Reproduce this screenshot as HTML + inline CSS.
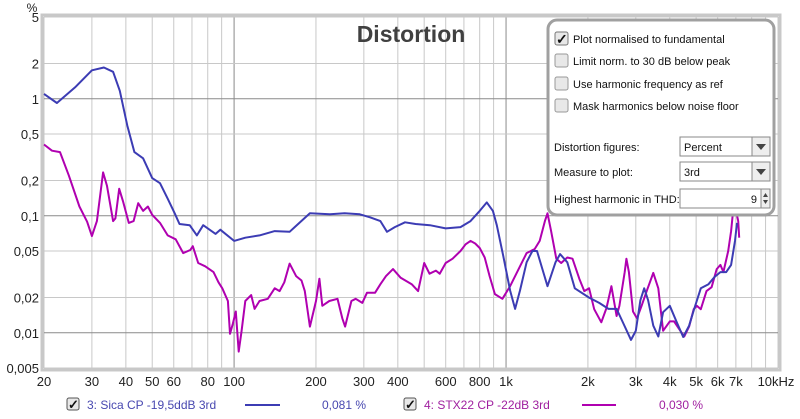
<!DOCTYPE html>
<html><head><meta charset="utf-8"><style>
body{margin:0;background:#fff;}
svg{display:block;font-family:"Liberation Sans",sans-serif;}
</style></head><body>
<svg id="chart" width="800" height="419" viewBox="0 0 800 419">
<rect x="0" y="0" width="800" height="419" fill="#fff"/>
<rect x="42" y="15" width="738" height="355" fill="#fff" stroke="#c8c8c8" stroke-width="3"/>
<g id="grid"></g>
<g id="ylabels" font-size="13" fill="#222" text-anchor="end"></g>
<g id="xlabels" font-size="13" fill="#222" text-anchor="middle"></g>
<text x="32" y="12" font-size="12" fill="#222" text-anchor="middle">%</text>
<text x="411" y="42" font-size="23" font-weight="bold" fill="#404040" text-anchor="middle">Distortion</text>
<g id="series"></g>

<g>
<rect x="548" y="20" width="226" height="195" rx="9" fill="#fff" stroke="#a0a0a0" stroke-width="3"/>
<g font-size="11" fill="#111">
<g><rect x="555" y="32" width="13" height="13" rx="2" fill="#e8e8e8" stroke="#777"/><text x="556" y="44" font-size="14" font-weight="bold">✓</text><text x="573" y="43">Plot normalised to fundamental</text></g>
<g><rect x="555" y="54" width="13" height="13" rx="2" fill="#e8e8e8" stroke="#999"/><text x="573" y="65">Limit norm. to 30 dB below peak</text></g>
<g><rect x="555" y="77" width="13" height="13" rx="2" fill="#e8e8e8" stroke="#999"/><text x="573" y="88">Use harmonic frequency as ref</text></g>
<g><rect x="555" y="99" width="13" height="13" rx="2" fill="#e8e8e8" stroke="#999"/><text x="573" y="110">Mask harmonics below noise floor</text></g>
<text x="554" y="151">Distortion figures:</text>
<g><rect x="680" y="137" width="90" height="19" fill="#fff" stroke="#888"/><text x="684" y="151">Percent</text><rect x="752" y="137" width="18" height="19" fill="#eee" stroke="#888"/><path d="M756 144h10l-5 6z" fill="#444"/></g>
<text x="554" y="176">Measure to plot:</text>
<g><rect x="680" y="162" width="90" height="19" fill="#fff" stroke="#888"/><text x="684" y="176">3rd</text><rect x="752" y="162" width="18" height="19" fill="#eee" stroke="#888"/><path d="M756 169h10l-5 6z" fill="#444"/></g>
<text x="554" y="203">Highest harmonic in THD:</text>
<g><rect x="680" y="189" width="90" height="19" fill="#fff" stroke="#888"/><text x="757" y="203" text-anchor="end">9</text><rect x="761" y="189" width="9" height="19" fill="#eee" stroke="#888"/><path d="M763 197h5l-2.5-4z M763 200h5l-2.5 4z" fill="#444"/></g>
</g>
</g>

<g font-size="12">
<g>
<rect x="67" y="398" width="12" height="12" rx="2" fill="#e8e8e8" stroke="#555"/><text x="68" y="409" font-size="13" font-weight="bold" fill="#111">✓</text>
<text x="87" y="409" fill="#4848b0">3: Sica CP -19,5ddB 3rd</text>
<line x1="245" y1="405" x2="280" y2="405" stroke="#3c3cb4" stroke-width="2"/>
<text x="322" y="409" fill="#4848b0">0,081 %</text></g>
<g>
<rect x="404" y="398" width="12" height="12" rx="2" fill="#e8e8e8" stroke="#555"/><text x="405" y="409" font-size="13" font-weight="bold" fill="#111">✓</text>
<text x="424" y="409" fill="#a020a0">4: STX22 CP -22dB 3rd</text>
<line x1="582" y1="405" x2="616" y2="405" stroke="#b000b0" stroke-width="2"/>
<text x="659" y="409" fill="#a020a0">0,030 %</text></g>
</g>
</svg>
<script>
const blueF=[20,22.3,26,30,33.2,35.9,38,40.5,43,46.3,50,53.4,57,60.5,63,68.7,73,77,85.5,89,100,110,124,141,160,167,190,225,255,290,316,345,365,390,425,465,525,600,680,740,800,850,895,925,975,1035,1080,1125,1190,1250,1300,1360,1420,1520,1580,1680,1790,2020,2200,2380,2550,2700,2880,3000,3120,3220,3330,3480,3630,3780,4000,4230,4480,4710,4900,5200,5550,5840,6140,6450,6720,6950,7070];
const blueV=[1.1,0.92,1.25,1.75,1.85,1.7,1.17,0.59,0.35,0.31,0.21,0.19,0.14,0.105,0.085,0.083,0.068,0.083,0.07,0.076,0.061,0.065,0.068,0.074,0.073,0.08,0.105,0.103,0.105,0.103,0.097,0.09,0.073,0.08,0.088,0.085,0.083,0.078,0.08,0.09,0.11,0.13,0.11,0.083,0.046,0.023,0.016,0.023,0.04,0.05,0.05,0.035,0.025,0.04,0.047,0.04,0.024,0.02,0.018,0.016,0.016,0.012,0.0087,0.0104,0.019,0.024,0.019,0.0115,0.0093,0.015,0.017,0.0125,0.0092,0.0115,0.0155,0.024,0.026,0.030,0.033,0.033,0.038,0.061,0.087];
const magF=[20,21.4,22.9,24.7,27,28.8,30,31.3,33,34.1,35.9,36.6,37.8,39,41,42.7,44.4,46.3,48.2,50,53.4,57,61,65,69,70.5,73.8,78.3,84,87.6,90.5,94.9,96.6,99,101.5,104,106.6,110,115.6,119,124,133,141,147,153,160,169,177,182,190,200,206,211,224,240,250,256,270,280,296,308,330,345,362,384,410,450,475,500,523,552,570,600,636,680,710,740,770,800,835,870,910,970,1035,1125,1190,1275,1330,1390,1420,1465,1530,1595,1680,1755,1860,1940,2020,2110,2240,2340,2440,2550,2610,2730,2770,2830,2930,3030,3150,3290,3480,3630,3780,4000,4150,4330,4520,4710,4900,5030,5200,5460,5700,5950,6140,6300,6560,6720,6840,6960,7140,7200];
const magV=[0.407,0.36,0.35,0.22,0.12,0.089,0.067,0.09,0.235,0.18,0.09,0.095,0.17,0.134,0.087,0.09,0.128,0.11,0.12,0.102,0.087,0.068,0.063,0.048,0.051,0.055,0.0395,0.037,0.033,0.027,0.024,0.0187,0.0098,0.012,0.0152,0.0069,0.0104,0.0187,0.021,0.016,0.0187,0.0195,0.024,0.0227,0.027,0.039,0.0305,0.028,0.0227,0.0113,0.0187,0.029,0.017,0.0187,0.0195,0.0133,0.0113,0.0187,0.0195,0.018,0.022,0.022,0.026,0.0305,0.035,0.0295,0.026,0.0227,0.0395,0.032,0.034,0.032,0.0395,0.043,0.05,0.057,0.061,0.058,0.053,0.044,0.0305,0.0214,0.0195,0.025,0.037,0.048,0.052,0.061,0.09,0.105,0.074,0.043,0.0395,0.044,0.043,0.029,0.0227,0.024,0.0159,0.0123,0.0163,0.025,0.0139,0.017,0.033,0.043,0.033,0.0152,0.0133,0.017,0.0227,0.0325,0.024,0.0104,0.0125,0.0125,0.0108,0.0093,0.0113,0.0159,0.017,0.0159,0.0227,0.0245,0.035,0.038,0.033,0.05,0.074,0.11,0.12,0.09,0.065];
const yTicks=[5,2,1,0.5,0.2,0.1,0.05,0.02,0.01,0.005];
const yTickLabels=["5","2","1","0,5","0,2","0,1","0,05","0,02","0,01","0,005"];
const xGrid=[20,30,40,50,60,70,80,90,100,200,300,400,500,600,700,800,900,1000,2000,3000,4000,5000,6000,7000,8000,9000,10000];
const xTicks=[20,30,40,50,60,80,100,200,300,400,600,800,1000,2000,3000,4000,5000,6000,7000,10000];
const xTickLabels=["20","30","40","50","60","80","100","200","300","400","600","800","1k","2k","3k","4k","5k","6k","7k","10kHz"];

const X0=44,X1=778,Y0=17,Y1=368;
const xs=f=>X0+(Math.log10(f)-Math.log10(20))/(Math.log10(10000)-Math.log10(20))*(X1-X0);
const ys=v=>Y0+(Math.log10(5)-Math.log10(v))/(Math.log10(5)-Math.log10(0.005))*(Y1-Y0);
const NS="http://www.w3.org/2000/svg";
const grid=document.getElementById('grid');
const major=[1,0.1,0.01,100,1000];
for(const f of xGrid){
 const l=document.createElementNS(NS,'line');
 
 
 const x=xs(f);l.setAttribute('x1',x);l.setAttribute('x2',x);l.setAttribute('y1',Y0);l.setAttribute('y2',Y1);
 l.setAttribute('stroke',major.includes(f)?'#8a8a8a':'#c8c8c8');l.setAttribute('stroke-width','1');
 grid.appendChild(l);
}
for(const v of yTicks){
 const l=document.createElementNS(NS,'line');
 
 
 const y=ys(v);l.setAttribute('x1',X0);l.setAttribute('x2',X1);l.setAttribute('y1',y);l.setAttribute('y2',y);
 l.setAttribute('stroke',major.includes(v)?'#8a8a8a':'#c8c8c8');l.setAttribute('stroke-width','1');
 grid.appendChild(l);
}
const yl=document.getElementById('ylabels');
yTicks.forEach((v,i)=>{
 const t=document.createElementNS(NS,'text');
 
 
 t.setAttribute('x',39);t.setAttribute('y',ys(v)+5);t.textContent=yTickLabels[i];yl.appendChild(t);
});
const xl=document.getElementById('xlabels');
xTicks.forEach((f,i)=>{
 const t=document.createElementNS(NS,'text');
 
 
 let x=xs(f);if(f===10000)x-=2;
 t.setAttribute('x',x);t.setAttribute('y',386);t.textContent=xTickLabels[i];xl.appendChild(t);
});
const sg=document.getElementById('series');
function draw(F,V,color,name){
 const p=document.createElementNS(NS,'path');
 
 
 p.setAttribute('d',F.map((f,i)=>(i?'L':'M')+xs(f).toFixed(1)+' '+ys(V[i]).toFixed(1)).join(' '));
 p.setAttribute('fill','none');p.setAttribute('stroke',color);p.setAttribute('stroke-width','2');p.setAttribute('stroke-linejoin','round');
 sg.appendChild(p);
}
draw(magF,magV,'#b000b0','series-stx22');
draw(blueF,blueV,'#3c3cb4','series-sica');
</script>
</body></html>
